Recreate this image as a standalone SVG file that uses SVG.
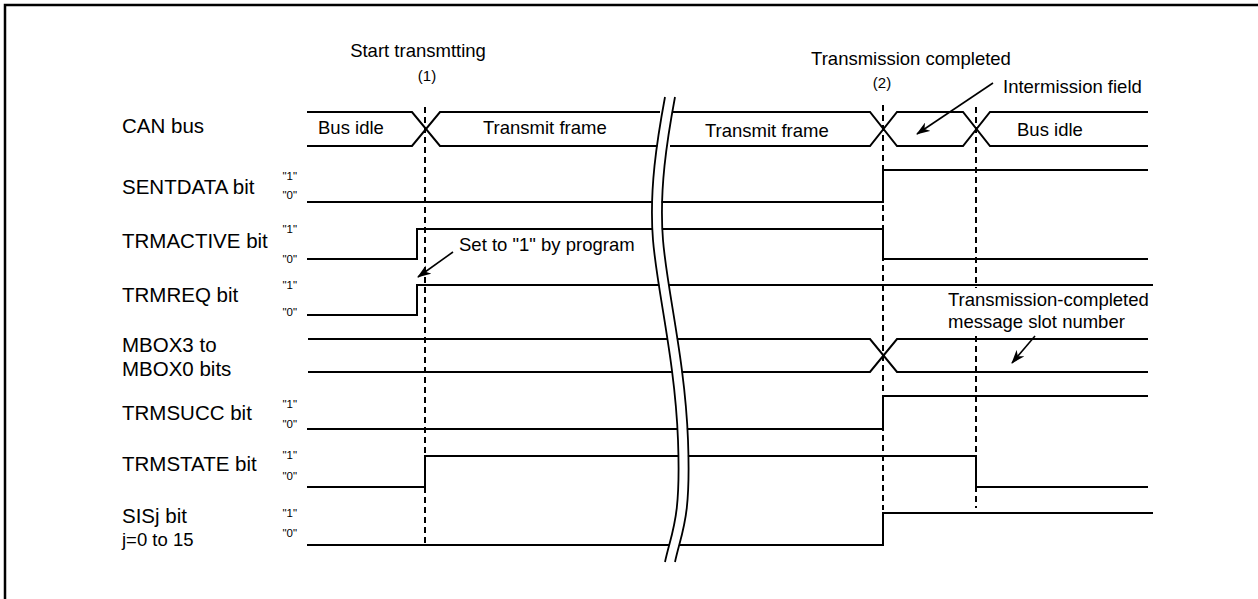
<svg xmlns="http://www.w3.org/2000/svg" width="1258" height="599" viewBox="0 0 1258 599">
<style>
  .sig{fill:none;stroke:#000;stroke-width:2;stroke-linejoin:miter}
  .dash{fill:none;stroke:#000;stroke-width:2;stroke-dasharray:6 4}
  .brk{fill:none;stroke:#000;stroke-width:1.8}
  .lab{font-family:"Liberation Sans",Arial,sans-serif;font-size:20.5px;fill:#000}
  .ann{font-family:"Liberation Sans",Arial,sans-serif;font-size:18.5px;fill:#000}
  .lv{font-family:"Liberation Sans",Arial,sans-serif;font-size:11.5px;fill:#000;text-anchor:end}
  .num{font-family:"Liberation Sans",Arial,sans-serif;font-size:15px;fill:#000;text-anchor:middle}
  .arr{fill:none;stroke:#000;stroke-width:1.6;marker-end:url(#ah)}
</style>
<defs>
  <marker id="ah" markerWidth="14" markerHeight="10" refX="13" refY="5" orient="auto" markerUnits="userSpaceOnUse">
    <path d="M0,0 L14,5 L0,10 L4,5 z" fill="#000"/>
  </marker>
  <path id="bc" d="M665,97 C657,140 649,190 653,240 S675,360 678,440 S672,530 665,562"/>
</defs>
<rect width="1258" height="599" fill="#fff"/>
<path d="M5,599 V5 H1258" fill="none" stroke="#000" stroke-width="2.5"/>

<g id="timeline-labels">
  <text class="ann" x="418" y="57" text-anchor="middle">Start transmtting</text>
  <text class="num" x="427" y="81">(1)</text>
  <text class="ann" x="911" y="65" text-anchor="middle">Transmission completed</text>
  <text class="num" x="882" y="88">(2)</text>
</g>

<g id="can-bus">
  <text class="lab" x="122" y="133">CAN bus</text>
  <path class="sig" d="M307,112 H412 L440,146 H660 M307,146 H412 L440,112 H660"/>
  <path class="sig" d="M670,112 H870 L897,146 H963 L990,112 H1148 M670,146 H870 L897,112 H963 L990,146 H1148"/>
  <text class="ann" x="318" y="134">Bus idle</text>
  <text class="ann" x="483" y="134">Transmit frame</text>
  <text class="ann" x="705" y="137">Transmit frame</text>
  <text class="ann" x="1017" y="136">Bus idle</text>
</g>

<g id="sentdata">
  <text class="lab" x="122" y="194">SENTDATA bit</text>
  <text class="lv" x="297" y="180">"1"</text>
  <text class="lv" x="297" y="199">"0"</text>
  <path class="sig" d="M307,202 H883 V170 H1148"/>
</g>

<g id="trmactive">
  <text class="lab" x="122" y="248">TRMACTIVE bit</text>
  <text class="lv" x="297" y="233">"1"</text>
  <text class="lv" x="297" y="263">"0"</text>
  <path class="sig" d="M307,259 H417 V229 H883 V259 H1148"/>
</g>

<g id="trmreq">
  <text class="lab" x="122" y="302">TRMREQ bit</text>
  <text class="lv" x="297" y="289">"1"</text>
  <text class="lv" x="297" y="316">"0"</text>
  <path class="sig" d="M307,315 H417 V285 H1153"/>
</g>

<g id="mbox">
  <text class="lab" x="122" y="352">MBOX3 to</text>
  <text class="lab" x="122" y="376">MBOX0 bits</text>
  <path class="sig" d="M308,339 H870 L897,372 H1148 M308,372 H870 L897,339 H1148"/>
</g>

<g id="trmsucc">
  <text class="lab" x="122" y="420">TRMSUCC bit</text>
  <text class="lv" x="297" y="408">"1"</text>
  <text class="lv" x="297" y="428">"0"</text>
  <path class="sig" d="M307,429 H883 V396 H1148"/>
</g>

<g id="trmstate">
  <text class="lab" x="122" y="471">TRMSTATE bit</text>
  <text class="lv" x="297" y="459">"1"</text>
  <text class="lv" x="297" y="480">"0"</text>
  <path class="sig" d="M307,487 H425 V456 H976 V487 H1148"/>
</g>

<g id="sisj">
  <text class="lab" x="122" y="523">SISj bit</text>
  <text class="ann" x="122" y="546">j=0 to 15</text>
  <text class="lv" x="297" y="517">"1"</text>
  <text class="lv" x="297" y="537">"0"</text>
  <path class="sig" d="M307,545 H883 V513 H1153"/>
</g>

<g id="break">
  <use href="#bc" transform="translate(5,0)" fill="none" stroke="#fff" stroke-width="9"/>
  <use href="#bc" class="brk"/>
  <use href="#bc" class="brk" transform="translate(10,0)"/>
</g>

<g id="connectors">
  <path class="dash" d="M425,107 V545"/>
  <path class="dash" d="M883,105 V510"/>
  <path class="dash" d="M976,107 V288 M976,336 V508"/>
  <path class="arr" d="M993,83 L917,134"/>
  <path class="arr" d="M453,252 L418,277"/>
  <path class="arr" d="M1035,336 L1012,363"/>
</g>

<g id="annotations">
  <text class="ann" x="1003" y="93">Intermission field</text>
  <text class="ann" x="459" y="251">Set to "1" by program</text>
  <text class="ann" x="948" y="306">Transmission-completed</text>
  <text class="ann" x="948" y="328">message slot number</text>
</g>
</svg>
